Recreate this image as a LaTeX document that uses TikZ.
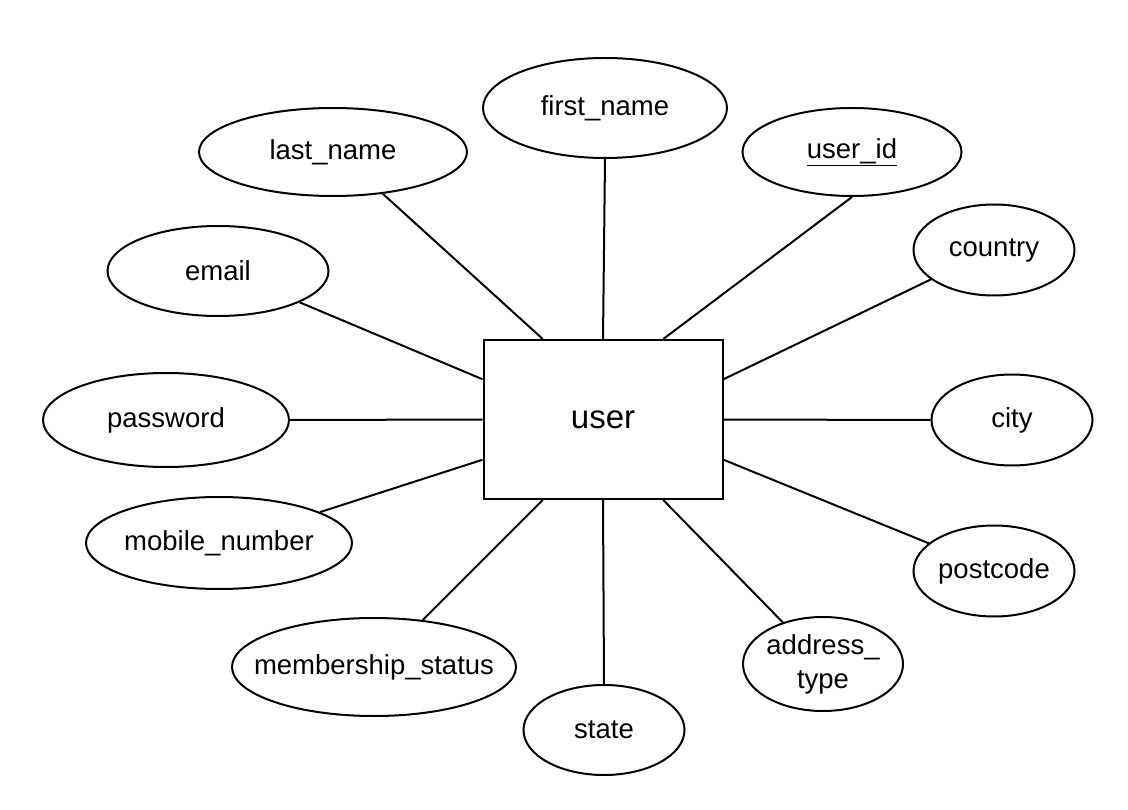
\documentclass[tikz,border=0pt]{standalone}
\usepackage{fontspec}
\setmainfont{Liberation Sans}
\usetikzlibrary{calc,shapes.geometric}
\begin{document}
\begin{tikzpicture}[x=1pt,y=-1pt,
  attr/.style={draw,ellipse,line width=2pt,inner sep=0pt,align=center,
    font=\fontsize{27.5}{34}\selectfont},
  entity/.style={draw,rectangle,line width=2pt,inner sep=0pt,
    minimum width=239pt,minimum height=159pt,font=\fontsize{33}{40}\selectfont},
  link/.style={line width=2pt}]
\useasboundingbox[fill=white] (0,0) rectangle (1128,810);

% central entity
\node[entity] (user) at (603,419.5) {user};

% attributes
\node[attr,minimum width=244pt,minimum height=100pt] (firstname) at (605,108) {first\_name};
\node[attr,minimum width=268pt,minimum height=88pt] (lastname) at (333,152) {last\_name};
\node[attr,minimum width=219pt,minimum height=88pt] (userid) at (852,152) {\underline{user\_id}};
\node[attr,minimum width=221pt,minimum height=90pt] (email) at (218,271) {email};
\node[attr,minimum width=161pt,minimum height=91pt] (country) at (994,250) {country};
\node[attr,minimum width=246pt,minimum height=94pt] (password) at (166,420) {password};
\node[attr,minimum width=161pt,minimum height=91pt] (city) at (1012,420) {city};
\node[attr,minimum width=266pt,minimum height=92pt] (mobile) at (219,543) {\makebox[0pt]{mobile\_number}};
\node[attr,minimum width=161pt,minimum height=91pt] (postcode) at (994,571) {postcode};
\node[attr,minimum width=284pt,minimum height=98pt] (membership) at (374,667) {\makebox[0pt]{membership\_status}};
\node[attr,minimum width=161pt,minimum height=90pt] (state) at (604,730) {state};
\node[attr,minimum width=160pt,minimum height=94pt] (addresstype) at (823,664) {address\_\\type};

% attachment points on the entity border
\coordinate (tl) at ($(user.north west)!0.25!(user.north east)$);
\coordinate (tr) at ($(user.north west)!0.75!(user.north east)$);
\coordinate (bl) at ($(user.south west)!0.25!(user.south east)$);
\coordinate (br) at ($(user.south west)!0.75!(user.south east)$);
\coordinate (lu) at ($(user.north west)!0.25!(user.south west)$);
\coordinate (ld) at ($(user.north west)!0.75!(user.south west)$);
\coordinate (ru) at ($(user.north east)!0.25!(user.south east)$);
\coordinate (rd) at ($(user.north east)!0.75!(user.south east)$);

% connectors
\draw[link] (firstname.south) -- (user.north);
\draw[link] (lastname.-40.5) -- (tl);
\draw[link] (userid.south) -- (tr);
\draw[link] (email.-21) -- (lu);
\draw[link] (country.205) -- (ru);
\draw[link] (password.east) -- (user.west);
\draw[link] (city.west) -- (user.east);
\draw[link] (mobile.17.7) -- (ld);
\draw[link] (postcode.157) -- (rd);
\draw[link] (membership.44.4) -- (bl);
\draw[link] (state.north) -- (user.south);
\draw[link] (addresstype.134) -- (br);
\end{tikzpicture}
\end{document}
